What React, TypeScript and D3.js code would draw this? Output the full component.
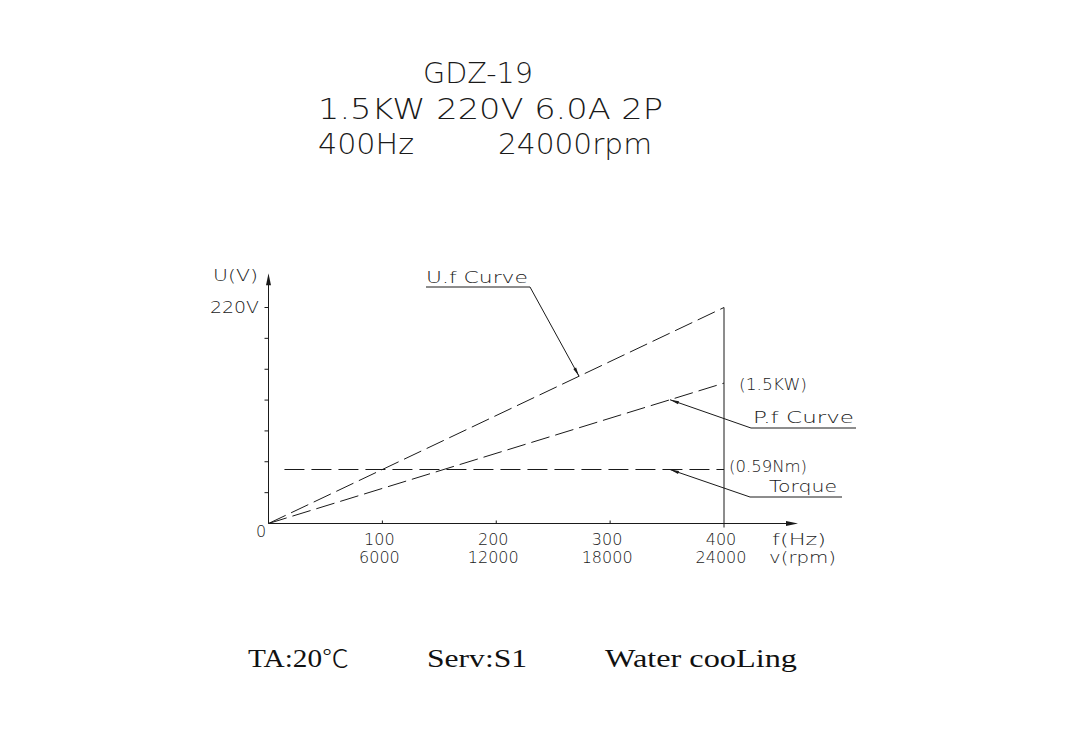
import React from "react";
import * as d3 from "d3";

// ---- data ----
const titleLines = ["GDZ-19", "1.5KW 220V 6.0A 2P"];
const titleLine3 = ["400Hz", "24000rpm"];
const freqTicks = [100, 200, 300, 400];
const rpmLabels = ["6000", "12000", "18000", "24000"];
const voltTicks = [31.4, 62.9, 94.3, 125.7, 157.1, 188.6, 220];
const ufCurve = [
  { f: 0, v: 0 },
  { f: 400, v: 220 },
];
const pfCurve = [
  { f: 0, v: 0 },
  { f: 400, v: 143 },
];
const torqueCurve = [
  { f: 14, v: 55 },
  { f: 400, v: 55 },
];
const footer = ["TA:20", "℃", "Serv:S1", "Water cooLing"];

const W = 1067;
const H = 741;
const CAD = "'DejaVu Sans', sans-serif";
const INK = "#1a1a1a";

export default function App() {
  const x = d3.scaleLinear().domain([0, 400]).range([268.5, 724]);
  const y = d3.scaleLinear().domain([0, 220]).range([523.5, 307.5]);
  const line = d3
    .line<{ f: number; v: number }>()
    .x((d) => x(d.f))
    .y((d) => y(d.v));

  const x0 = x(0);
  const y0 = y(0);
  const xEnd = x(465);
  const yTop = y(255);

  const arrow = (tx: number, ty: number, fx: number, fy: number, len = 9, hw = 1.6) => {
    const dx = tx - fx;
    const dy = ty - fy;
    const L = Math.hypot(dx, dy);
    const ux = dx / L;
    const uy = dy / L;
    const bx = tx - ux * len;
    const by = ty - uy * len;
    return `M${tx},${ty}L${bx - uy * hw},${by + ux * hw}L${bx + uy * hw},${by - ux * hw}Z`;
  };

  // leader tips on curves
  const ufTipF = 272.7;
  const ufTip = { x: x(ufTipF), y: y((220 * ufTipF) / 400) };
  const pfTipF = 352.6;
  const pfTip = { x: x(pfTipF), y: y((143 * pfTipF) / 400) };
  const tqTip = { x: x(pfTipF), y: y(55) };

  const ufElbow = { x: 530, y: 287 };
  const pfElbow = { x: 751, y: 428 };
  const tqElbow = { x: 750, y: 497 };

  return (
    <svg width={W} height={H} style={{ position: "absolute", left: 0, top: 0, background: "#fff" }}>
      <rect width={W} height={H} fill="#fff" />
      {/* title */}
      <g fontFamily={CAD} fontWeight={200} fill={INK} fontSize={28}>
        <text x={423} y={83} textLength={110} lengthAdjust="spacingAndGlyphs">
          {titleLines[0]}
        </text>
        <text x={318} y={119} textLength={345} lengthAdjust="spacingAndGlyphs">
          {titleLines[1]}
        </text>
        <text x={318} y={154} textLength={96} lengthAdjust="spacingAndGlyphs">
          {titleLine3[0]}
        </text>
        <text x={498} y={154} textLength={154} lengthAdjust="spacingAndGlyphs">
          {titleLine3[1]}
        </text>
      </g>

      {/* axes */}
      <g stroke={INK} strokeWidth={1} fill="none">
        <line x1={x0} y1={y0} x2={xEnd - 8} y2={y0} />
        <line x1={x0} y1={y0} x2={x0} y2={yTop + 8} />
        {voltTicks.map((v) => (
          <line key={v} x1={x0 - 4} x2={x0} y1={y(v)} y2={y(v)} />
        ))}
        {freqTicks.slice(0, 3).map((f) => (
          <line key={f} x1={x(f)} x2={x(f)} y1={y0 - 3} y2={y0} />
        ))}
        <line x1={x(400)} x2={x(400)} y1={y(220)} y2={y0 + 4} />
      </g>
      <path d={arrow(xEnd, y0, x0, y0, 12, 2.5)} fill={INK} />
      <path d={arrow(x0, yTop, x0, y0, 12, 2.5)} fill={INK} />

      {/* curves */}
      <g stroke={INK} strokeWidth={1} fill="none">
        <path d={line(ufCurve) || ""} strokeDasharray="19,6" />
        <path d={line(pfCurve) || ""} strokeDasharray="19,6" />
        <path d={line(torqueCurve) || ""} strokeDasharray="20,7" />
      </g>

      {/* leaders */}
      <g stroke={INK} strokeWidth={1} fill="none">
        <polyline points={`426,287 ${ufElbow.x},${ufElbow.y} ${ufTip.x},${ufTip.y}`} />
        <polyline points={`856,428 ${pfElbow.x},${pfElbow.y} ${pfTip.x},${pfTip.y}`} />
        <polyline points={`842,497 ${tqElbow.x},${tqElbow.y} ${tqTip.x},${tqTip.y}`} />
      </g>
      <path d={arrow(ufTip.x, ufTip.y, ufElbow.x, ufElbow.y)} fill={INK} />
      <path d={arrow(pfTip.x, pfTip.y, pfElbow.x, pfElbow.y)} fill={INK} />
      <path d={arrow(tqTip.x, tqTip.y, tqElbow.x, tqElbow.y)} fill={INK} />

      {/* labels */}
      <g fontFamily={CAD} fontWeight={200} fill={INK} fontSize={15}>
        <text x={426} y={283} textLength={102} lengthAdjust="spacingAndGlyphs">U.f Curve</text>
        <text x={753} y={423} textLength={101} lengthAdjust="spacingAndGlyphs">P.f Curve</text>
        <text x={769} y={492} textLength={68} lengthAdjust="spacingAndGlyphs">Torque</text>
        <text x={739} y={390} textLength={68} lengthAdjust="spacingAndGlyphs">(1.5KW)</text>
        <text x={729} y={472} textLength={78} lengthAdjust="spacingAndGlyphs">(0.59Nm)</text>
        <text x={213} y={281} textLength={45} lengthAdjust="spacingAndGlyphs">U(V)</text>
        <text x={210} y={313} textLength={49} lengthAdjust="spacingAndGlyphs">220V</text>
        <text x={256} y={537} fontSize={16}>0</text>
      </g>
      <g fontFamily={CAD} fontWeight={200} fill={INK} fontSize={16}>
        {freqTicks.map((f, i) => (
          <g key={f}>
            <text x={x(f) - 3} y={545} textAnchor="middle">
              {f}
            </text>
            <text x={x(f) - 3} y={563} textAnchor="middle">
              {rpmLabels[i]}
            </text>
          </g>
        ))}
        <text x={772} y={545} textLength={54} lengthAdjust="spacingAndGlyphs">f(Hz)</text>
        <text x={769} y={563} textLength={67} lengthAdjust="spacingAndGlyphs">v(rpm)</text>
      </g>

      {/* footer */}
      <g fontFamily="'Liberation Serif', serif" fill="#111" fontSize={26}>
        <text x={248} y={667} textLength={101} lengthAdjust="spacingAndGlyphs">
          <tspan>{footer[0]}</tspan>
          <tspan fontFamily="'Noto Sans CJK SC', sans-serif" fontWeight={300} fontSize={24}>
            {footer[1]}
          </tspan>
        </text>
        <text x={427} y={667} textLength={100} lengthAdjust="spacingAndGlyphs">{footer[2]}</text>
        <text x={605} y={667} textLength={192} lengthAdjust="spacingAndGlyphs">{footer[3]}</text>
      </g>
    </svg>
  );
}
